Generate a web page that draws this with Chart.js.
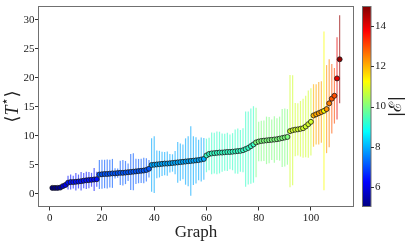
<!DOCTYPE html>
<html>
<head>
<meta charset="utf-8">
<script src="https://cdn.jsdelivr.net/npm/chart.js@4.4.0/dist/chart.umd.min.js"></script>
<style>
  html, body { margin: 0; padding: 0; background: #fff; }
  #wrap { width: 407px; height: 243px; }
</style>
</head>
<body>
<div id="wrap"><canvas id="chart" width="407" height="243"></canvas></div>
<script>
// mean T* per graph (graphs are numbered 1..N in sorted order)
const meanT = [
  1.0, 1.0, 1.0, 1.05, 1.3, 1.5, 1.9, 2.0, 2.0, 2.05,
  2.1, 2.15, 2.25, 2.3, 2.35, 2.4, 2.45, 2.5, 3.3, 3.35,
  3.4, 3.4, 3.45, 3.5, 3.5, 3.55, 3.6, 3.6, 3.65, 3.7,
  3.75, 3.8, 3.85, 3.9, 3.95, 4.0, 4.1, 4.3, 4.95, 5.0,
  5.05, 5.1, 5.15, 5.2, 5.2, 5.25, 5.3, 5.35, 5.4, 5.45,
  5.5, 5.55, 5.6, 5.65, 5.7, 5.75, 5.8, 5.9, 6.0, 6.6,
  6.85, 6.95, 7.0, 7.05, 7.1, 7.1, 7.15, 7.2, 7.2, 7.25,
  7.3, 7.35, 7.4, 7.5, 7.7, 7.9, 8.2, 8.5, 8.85, 9.0,
  9.1, 9.15, 9.2, 9.25, 9.3, 9.35, 9.4, 9.5, 9.6, 9.7,
  9.8, 10.8, 10.95, 11.05, 11.1, 11.2, 11.3, 11.6, 12.0, 12.4,
  13.5, 13.7, 13.9, 14.1, 14.3, 14.6, 15.6, 16.4, 16.9, 19.9, 23.2
];
// error bar half widths
const errT = [
  0.1, 0.1, 0.1, 0.15, 0.3, 0.5, 1.2, 1.3, 1.1, 1.5,
  1.2, 1.6, 1.3, 1.5, 1.4, 1.2, 2.0, 1.3, 2.5, 2.5,
  2.45, 2.5, 2.4, 2.5, 0.9, 0.8, 2.1, 2.2, 2.0, 1.5,
  3.1, 3.2, 2.2, 2.1, 2.1, 2.2, 2.0, 1.5, 4.6, 4.9,
  2.4, 2.3, 2.1, 2.0, 2.1, 1.6, 1.5, 2.0, 3.5, 3.2,
  3.0, 4.0, 4.3, 6.0, 4.2, 4.0, 3.5, 3.8, 3.6, 2.9,
  2.8, 3.6, 3.5, 3.7, 3.6, 3.3, 3.2, 3.3, 3.0, 3.2,
  3.8, 3.9, 3.6, 3.8, 6.5, 6.3, 6.5, 6.6, 6.0, 3.4,
  3.5, 3.5, 4.1, 4.0, 3.5, 4.0, 3.6, 3.8, 5.0, 5.0,
  4.8, 9.7, 9.5, 4.6, 4.5, 4.8, 5.1, 5.3, 5.8, 5.8,
  5.4, 5.2, 5.4, 5.3, 13.7, 7.6, 7.6, 6.0, 4.8, 7.1, 7.6
];
// |E| used for the colour
const energy = [
  5.0, 5.1, 5.2, 5.3, 5.8, 6.0, 6.4, 6.4, 6.4, 6.4,
  6.4, 6.4, 6.4, 6.4, 6.4, 6.4, 6.4, 6.4, 7.1, 7.1,
  7.1, 7.1, 7.1, 7.1, 7.1, 7.1, 7.1, 7.1, 7.1, 7.1,
  7.1, 7.1, 7.1, 7.1, 7.1, 7.1, 7.1, 7.1, 7.9, 7.9,
  7.9, 7.9, 7.9, 7.9, 7.9, 7.9, 7.9, 7.9, 7.9, 7.9,
  7.9, 7.9, 7.9, 7.9, 7.9, 7.9, 7.9, 7.9, 7.9, 9.3,
  9.3, 9.3, 9.3, 9.3, 9.3, 9.3, 9.3, 9.3, 9.3, 9.3,
  9.3, 9.3, 9.3, 9.3, 9.3, 9.3, 9.3, 9.3, 10.0, 10.0,
  10.0, 10.0, 10.0, 10.0, 10.0, 10.0, 10.0, 10.0, 10.0, 10.0,
  10.0, 10.8, 10.8, 10.8, 10.8, 10.8, 10.8, 10.8, 10.8, 10.8,
  12.0, 12.1, 12.2, 12.2, 11.2, 12.3, 12.5, 12.9, 13.0, 14.0, 14.8
];
const xTicks = [0, 20, 40, 60, 80, 100];
const yTicks = [0, 5, 10, 15, 20, 25, 30];
const cbTicks = [6, 8, 10, 12, 14];
const cMin = 5, cMax = 15;

const serif = "'Liberation Serif', 'DejaVu Serif', serif";

function jet(v, alpha) {
  const t = Math.max(0, Math.min(1, (v - cMin) / (cMax - cMin)));
  const cl = x => Math.round(255 * Math.max(0, Math.min(1, x)));
  const r = cl(Math.min(4 * t - 1.5, -4 * t + 4.5));
  const g = cl(Math.min(4 * t - 0.5, -4 * t + 3.5));
  const b = cl(Math.min(4 * t + 0.5, -4 * t + 2.5));
  return `rgba(${r},${g},${b},${alpha})`;
}

const points = meanT.map((v, i) => ({ x: i + 1, y: v }));

const errorBars = {
  id: 'errorBars',
  beforeDatasetsDraw(chart) {
    const { ctx, scales: { x, y } } = chart;
    ctx.save();
    ctx.lineWidth = 1.2;
    meanT.forEach((v, i) => {
      const px = x.getPixelForValue(i + 1);
      ctx.strokeStyle = jet(energy[i], 0.62);
      ctx.beginPath();
      ctx.moveTo(px, y.getPixelForValue(v - errT[i]));
      ctx.lineTo(px, y.getPixelForValue(v + errT[i]));
      ctx.stroke();
    });
    ctx.restore();
  }
};

const frame = {
  id: 'frame',
  afterDraw(chart) {
    const { ctx, chartArea: a, scales: { c } } = chart;
    ctx.save();
    ctx.strokeStyle = '#707070';
    ctx.lineWidth = 1;
    ctx.strokeRect(a.left + 0.5, a.top + 0.5, a.right - a.left - 1, a.bottom - a.top - 1);

    // colour bar
    const bx = a.right + 8.5, bw = 8.5;
    const top = c.getPixelForValue(cMax), bot = c.getPixelForValue(cMin);
    const grad = ctx.createLinearGradient(0, bot, 0, top);
    for (let k = 0; k <= 40; k++) grad.addColorStop(k / 40, jet(cMin + (cMax - cMin) * k / 40, 1));
    ctx.fillStyle = grad;
    ctx.fillRect(bx, top, bw, bot - top);
    ctx.strokeRect(bx, top + 0.5, bw, bot - top - 1);
    ctx.strokeStyle = '#333';
    cbTicks.forEach(t => {
      const py = Math.round(c.getPixelForValue(t)) + 0.5;
      ctx.beginPath();
      ctx.moveTo(bx + bw, py);
      ctx.lineTo(bx + bw + 3, py);
      ctx.stroke();
    });

    // y axis label  <T*>
    ctx.fillStyle = '#222';
    ctx.translate(13, (a.top + a.bottom) / 2);
    ctx.rotate(-Math.PI / 2);
    const parts = [
      { s: '\u27E8', f: `18px ${serif}`, dy: 0 },
      { s: 'T', f: `italic 18px ${serif}`, dy: 0 },
      { s: '\u22C6', f: `13px 'DejaVu Sans', sans-serif`, dy: -7 },
      { s: '\u27E9', f: `18px ${serif}`, dy: 0 }
    ];
    let w = 0;
    parts.forEach(p => { ctx.font = p.f; p.w = ctx.measureText(p.s).width; w += p.w; });
    let cx = -w / 2;
    ctx.textBaseline = 'middle';
    parts.forEach(p => { ctx.font = p.f; ctx.fillText(p.s, cx, p.dy); cx += p.w; });
    ctx.restore();

    // colour bar label |E|
    ctx.save();
    ctx.fillStyle = '#222';
    ctx.translate(396.5, (a.top + a.bottom) / 2);
    ctx.rotate(-Math.PI / 2);
    ctx.font = `17px 'DejaVu Serif', serif`;
    ctx.textAlign = 'center';
    ctx.textBaseline = 'middle';
    ctx.fillText('|\u2130|', 0, 0);
    ctx.restore();
  }
};

const tickFont = { family: serif, size: 11 };
const noPad = s => { s.paddingTop = 0; s.paddingBottom = 0; };

new Chart(document.getElementById('chart'), {
  type: 'scatter',
  data: {
    datasets: [{
      data: points,
      pointRadius: 2.5,
      pointHoverRadius: 2.5,
      pointBackgroundColor: energy.map(e => jet(e, 1)),
      pointBorderColor: '#1a1a1a',
      pointBorderWidth: 0.8
    }]
  },
  options: {
    responsive: false,
    animation: false,
    layout: { padding: { top: 6, left: 0, right: 0, bottom: 0 } },
    plugins: { legend: { display: false }, tooltip: { enabled: false } },
    scales: {
      x: {
        type: 'linear', min: -4.5, max: 116.5,
        afterBuildTicks: s => { s.ticks = xTicks.map(v => ({ value: v })); },
        afterFit: s => { s.height = 36; s.paddingLeft = 0; s.paddingRight = 0; },
        grid: { drawOnChartArea: false, tickLength: 3.5, color: '#333' },
        border: { display: false },
        ticks: { padding: 1, color: '#222', font: tickFont, maxRotation: 0 },
        title: { display: true, text: 'Graph', color: '#222', font: { family: serif, size: 17 }, padding: { top: 0, bottom: 0 } }
      },
      y: {
        type: 'linear', min: -2.3, max: 32.4,
        afterBuildTicks: s => { s.ticks = yTicks.map(v => ({ value: v })); },
        afterFit: s => { s.width = 38; noPad(s); },
        grid: { drawOnChartArea: false, tickLength: 3, color: '#333' },
        border: { display: false },
        ticks: { padding: 0.5, color: '#222', font: tickFont }
      },
      c: {
        type: 'linear', axis: 'y', position: 'right', min: cMin, max: cMax,
        afterBuildTicks: s => { s.ticks = cbTicks.map(v => ({ value: v })); },
        afterFit: s => { s.width = 53; noPad(s); },
        grid: { display: false, drawTicks: false },
        border: { display: false },
        ticks: { padding: 21, color: '#222', font: tickFont }
      }
    }
  },
  plugins: [errorBars, frame]
});
</script>
</body>
</html>
